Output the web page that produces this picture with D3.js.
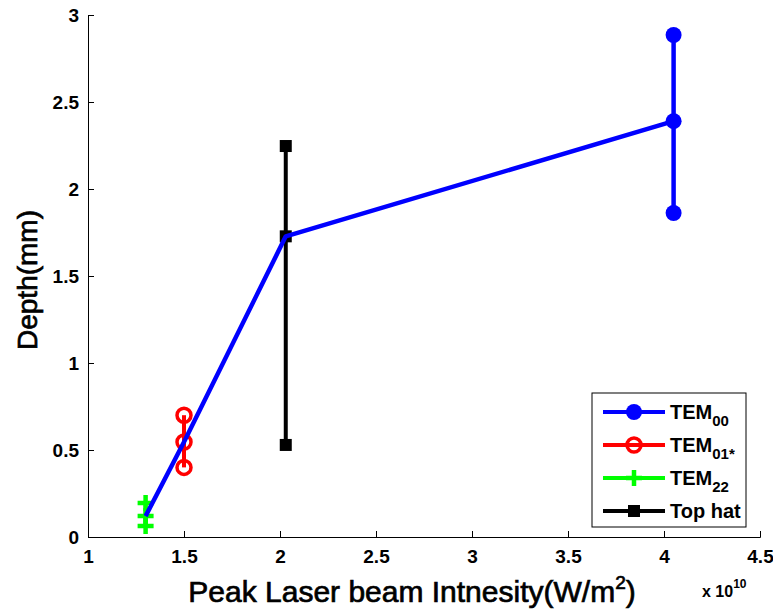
<!DOCTYPE html>
<html><head><meta charset="utf-8">
<script src="https://cdn.jsdelivr.net/npm/d3@7"></script>
<style>body{margin:0;background:#fff}svg{display:block}text{font-family:"Liberation Sans",Arial,sans-serif}</style>
</head><body>
<svg id="c" width="773" height="613"></svg>
<script>
const xTicks = [1, 1.5, 2, 2.5, 3, 3.5, 4, 4.5];
const yTicks = [0, 0.5, 1, 1.5, 2, 2.5, 3];
const tem00 = {x: 4.05, y: [2.885, 2.39, 1.862]};
const tem01 = {x: 1.5, y: [0.70, 0.546, 0.40]};
const tem22 = {x: 1.3, y: [0.195, 0.12, 0.063]};
const topHat = {x: 2.03, y: [2.247, 1.728, 0.529]};
const meanX = [1.3, 1.5, 2.03, 4.05];
const meanY = [0.12, 0.546, 1.728, 2.39];

const svg = d3.select("#c");
const L = 88, R = 760, T = 15, B = 537;
const x = d3.scaleLinear().domain([1, 4.5]).range([L, R]);
const y = d3.scaleLinear().domain([0, 3]).range([B, T]);

const ax = svg.append("g").attr("transform", `translate(0,${B})`)
  .call(d3.axisBottom(x).tickValues(xTicks).tickSize(-6).tickPadding(13).tickFormat(d => d));
const ay = svg.append("g").attr("transform", `translate(${L},0)`)
  .call(d3.axisLeft(y).tickValues(yTicks).tickSize(-6).tickPadding(9).tickFormat(d => d));
[ax, ay].forEach(g => {
  g.select(".domain").attr("stroke", "#000").attr("stroke-width", 1);
  g.selectAll(".tick line").attr("stroke", "#000");
  g.selectAll(".tick text").attr("fill", "#000").style("font-size", "19px").style("font-weight", "bold")
   .style("font-family", '"Liberation Sans",Arial,sans-serif');
});
ax.selectAll(".tick text").attr("dy", "0.71em");

function vseries(d, color, w) {
  svg.append("path").attr("d", d3.line()(d.y.map(v => [x(d.x), y(v)])))
    .attr("stroke", color).attr("stroke-width", w).attr("fill", "none");
}
function marker(g, type, cx, cy, color) {
  if (type === "dot") g.append("circle").attr("cx", cx).attr("cy", cy).attr("r", 8).attr("fill", color);
  else if (type === "circ") g.append("circle").attr("cx", cx).attr("cy", cy).attr("r", 7).attr("fill", "none").attr("stroke", color).attr("stroke-width", 3.5);
  else if (type === "plus") {
    g.append("path").attr("d", `M${cx-8},${cy}H${cx+8}M${cx},${cy-8}V${cy+8}`).attr("stroke", color).attr("stroke-width", 4.5);
  } else if (type === "sq") g.append("rect").attr("x", cx-6).attr("y", cy-6).attr("width", 12).attr("height", 12).attr("fill", color);
}

vseries(topHat, "#000", 4);
topHat.y.forEach(v => marker(svg, "sq", x(topHat.x), y(v), "#000"));
vseries(tem01, "#f00", 4);
tem01.y.forEach(v => marker(svg, "circ", x(tem01.x), y(v), "#f00"));
vseries(tem22, "#0f0", 4);
tem22.y.forEach(v => marker(svg, "plus", x(tem22.x), y(v), "#0f0"));
svg.append("path").attr("d", d3.line().x((d, i) => x(meanX[i])).y(d => y(d))(meanY))
  .attr("stroke", "#00f").attr("stroke-width", 4.5).attr("fill", "none").attr("stroke-linejoin", "round");
vseries(tem00, "#00f", 4.5);
tem00.y.forEach(v => marker(svg, "dot", x(tem00.x), y(v), "#00f"));

svg.append("text").attr("x", 412).attr("y", 602).attr("text-anchor", "middle")
  .style("font-size", "30px").attr("stroke", "#000").attr("stroke-width", 0.7)
  .html('Peak Laser beam Intnesity(W/m<tspan dy="-13" font-size="19px">2</tspan><tspan dy="13">)</tspan>');
svg.append("text").attr("transform", "translate(37,280) rotate(-90)").attr("text-anchor", "middle")
  .style("font-size", "28px").attr("stroke", "#000").attr("stroke-width", 0.7).text("Depth(mm)");
svg.append("text").attr("x", 702).attr("y", 597).style("font-size", "16px").style("font-weight", "bold")
  .html('x 10<tspan dy="-9" font-size="12px">10</tspan>');

const lg = svg.append("g");
lg.append("rect").attr("x", 592).attr("y", 393).attr("width", 154).attr("height", 134)
  .attr("fill", "#fff").attr("stroke", "#000").attr("stroke-width", 1);
const entries = [
  {c: "#00f", m: "dot", t: "TEM", s: "00"},
  {c: "#f00", m: "circ", t: "TEM", s: "01*"},
  {c: "#0f0", m: "plus", t: "TEM", s: "22"},
  {c: "#000", m: "sq", t: "Top hat", s: ""}
];
entries.forEach((e, i) => {
  const yy = 412 + i * 33;
  lg.append("line").attr("x1", 603).attr("x2", 665).attr("y1", yy).attr("y2", yy).attr("stroke", e.c).attr("stroke-width", 4);
  marker(lg, e.m, 634, yy, e.c);
  const t = lg.append("text").attr("x", 670).attr("y", yy + 7).style("font-size", "20px").style("font-weight", "bold");
  t.append("tspan").text(e.t);
  if (e.s) t.append("tspan").attr("dy", 7).style("font-size", "15px").text(e.s);
});
</script>
</body></html>
